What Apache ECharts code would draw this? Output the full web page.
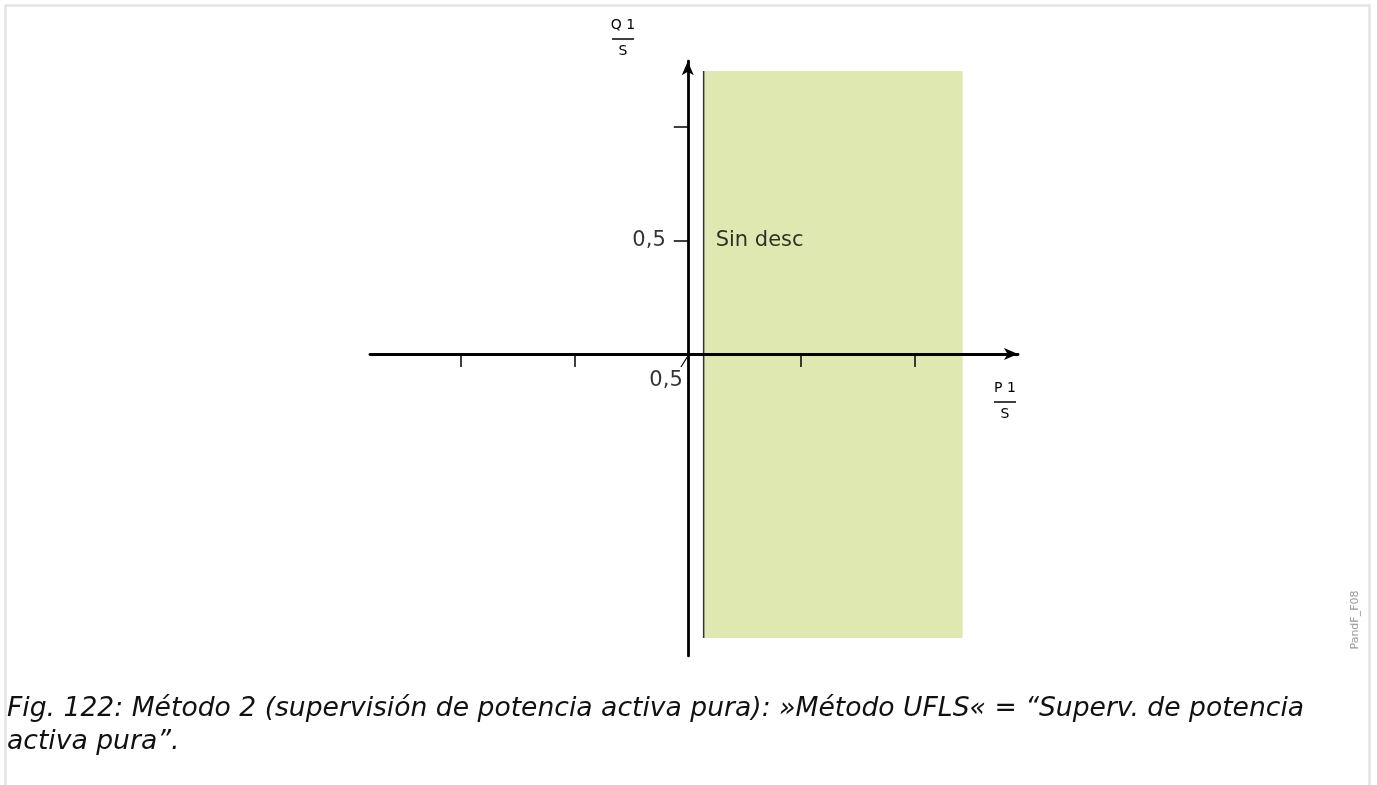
<!DOCTYPE html>
<html>
<head>
<meta charset="utf-8">
<script src="https://cdn.jsdelivr.net/npm/echarts@6/dist/echarts.min.js"></script>
<style>
html,body{margin:0;padding:0;background:#fff;}
#chart{width:1377px;height:785px;}
</style>
</head>
<body>
<div id="chart"></div>
<script>
// ---- data ----
const xRange = [-1.4, 1.455];
const yRange = [-1.33, 1.29];
const xTickValues = [-1, -0.5, 0.5, 1];
const yTickValues = [0.5, 1];
const yLabelPoints = [[0, 0.5]];
const xLabelPoints = [[0, 0]];
const tickLabelText = '0,5';
const zoneX = [0.07, 1.211];
const zoneY = [-1.251, 1.247];
const zoneLabel = 'Sin desc';
const zoneLabelPos = [0.123, 0.5];
const leaderX = [0, -0.03];
const leaderY = [-0.01, -0.057];
const xName = ['P 1', 'S'];
const yName = ['Q 1', 'S'];
const caption = 'Fig. 122: Método 2 (supervisión de potencia activa pura): »Método UFLS« = “Superv. de potencia\nactiva pura”.';
const figId = 'PandF_F08';

const FONT = '"DejaVu Sans", sans-serif';
const chart = echarts.init(document.getElementById('chart'), null, {renderer: 'canvas'});

function fraction(cx, topY, parts) {
  return {
    type: 'group',
    children: [
      {type: 'text', x: cx, y: topY, style: {text: parts[0], font: '14px ' + FONT, fill: '#000', align: 'center', verticalAlign: 'top'}},
      {type: 'line', shape: {x1: cx - 11, y1: topY + 21, x2: cx + 11, y2: topY + 21}, style: {stroke: '#000', lineWidth: 1.5}},
      {type: 'text', x: cx, y: topY + 26, style: {text: parts[1], font: '14px ' + FONT, fill: '#000', align: 'center', verticalAlign: 'top'}}
    ]
  };
}

const option = {
  backgroundColor: '#fff',
  animation: false,
  grid: {left: 370, top: 61.2, width: 648, height: 594.7, containLabel: false},
  xAxis: {
    type: 'value', min: xRange[0], max: xRange[1], z: 10,
    splitLine: {show: false},
    axisLine: {onZero: true, lineStyle: {color: '#000', width: 2.8}, symbol: ['none', 'arrow'], symbolSize: [9, 14]},
    axisTick: {show: true, customValues: xTickValues, length: 13, lineStyle: {color: '#000', width: 1.5}},
    axisLabel: {show: false}
  },
  yAxis: {
    type: 'value', min: yRange[0], max: yRange[1], z: 10,
    splitLine: {show: false},
    axisLine: {onZero: true, lineStyle: {color: '#000', width: 2.8}, symbol: ['none', 'arrow'], symbolSize: [9, 14]},
    axisTick: {show: true, customValues: yTickValues, length: 14, lineStyle: {color: '#000', width: 1.5}},
    axisLabel: {show: false}
  },
  series: [
    {
      type: 'line', silent: true, symbol: 'none',
      data: [[zoneX[0], zoneY[0]], [zoneX[0], zoneY[1]]],
      lineStyle: {color: '#333', width: 1.5},
      markArea: {
        silent: true,
        itemStyle: {color: '#dfe8b1'},
        data: [[{coord: [zoneX[0], zoneY[0]]}, {coord: [zoneX[1], zoneY[1]]}]]
      },
      z: 3
    },
    {
      type: 'scatter', silent: true, symbolSize: 0,
      data: [zoneLabelPos],
      label: {show: true, position: 'right', distance: 0, formatter: zoneLabel, fontSize: 21, fontFamily: FONT, color: '#000'},
      z: 12
    },
    {
      type: 'scatter', silent: true, symbolSize: 0,
      data: yLabelPoints,
      label: {show: true, position: 'left', distance: 22, formatter: tickLabelText, fontSize: 21, fontFamily: FONT, color: '#000'},
      z: 12
    },
    {
      type: 'scatter', silent: true, symbolSize: 0,
      data: xLabelPoints,
      label: {show: true, position: 'left', distance: 5, offset: [0, 27], formatter: tickLabelText, fontSize: 21, fontFamily: FONT, color: '#000'},
      z: 12
    },
    {
      type: 'line', silent: true, symbol: 'none',
      data: [[leaderX[0], leaderY[0]], [leaderX[1], leaderY[1]]],
      lineStyle: {color: '#000', width: 1.2},
      z: 12
    }
  ],
  graphic: [
    {type: 'rect', shape: {x: 5.5, y: 5.5, width: 1364, height: 800}, style: {fill: 'none', stroke: '#e4e4e4', lineWidth: 2.5}, silent: true},
    fraction(623, 18, yName),
    fraction(1005, 381, xName),
    {type: 'text', x: 1355, y: 620, rotation: Math.PI / 2, style: {text: figId, font: '11px ' + FONT, fill: '#999', align: 'center', verticalAlign: 'middle'}},
    {type: 'text', x: 7, y: 693, style: {text: caption, font: 'italic 26.6px ' + FONT, lineHeight: 33, fill: '#111', align: 'left', verticalAlign: 'top'}}
  ]
};
chart.setOption(option);
</script>
</body>
</html>
